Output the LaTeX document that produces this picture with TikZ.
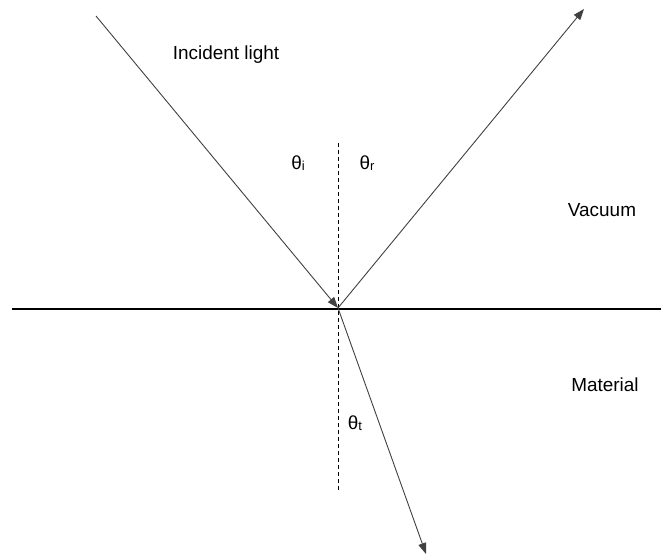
\documentclass[tikz,border=0pt]{standalone}
\usepackage{fontspec}
\setmainfont{Liberation Sans}
\usetikzlibrary{arrows.meta}
\newcommand{\thsub}[1]{θ\raisebox{-1bp}{\fontsize{13}{13}\selectfont #1}}
\begin{document}
\begin{tikzpicture}[x=1bp,y=-1bp,
  ray/.style={draw=black!75, line width=0.9bp},
  tip/.style={-{Triangle[length=11bp,width=8bp]}},
  lbl/.style={font=\fontsize{19}{19}\selectfont, inner sep=0pt, anchor=center},
  normal/.style={draw=black, line width=1bp, dash pattern=on 4bp off 3bp}]
\useasboundingbox (0,0) rectangle (661,555);
\coordinate (src) at (96,16);
\coordinate (o) at (338,308);
\coordinate (refl) at (584,9);
\coordinate (refr) at (426,554);
\coordinate (hl) at (12,308.5);
\coordinate (hr) at (661,308.5);
\coordinate (nt) at (338,143);
\coordinate (nb) at (338,492);
\draw[line width=2bp] (hl) -- (hr);
\draw[normal] (nt) -- (nb);
\draw[ray,tip] (src) -- (o);
\draw[ray,tip] (o) -- (refl);
\draw[ray,tip] (o) -- (refr);
\node[lbl] (inc) at (226,55) {Incident light};
\node[lbl] (vac) at (602,210) {Vacuum};
\node[lbl] (mat) at (605,385) {Material};
\node[lbl] (ti) at (298,163) {\thsub{i}};
\node[lbl] (tr) at (367,163) {\thsub{r}};
\node[lbl] (tt) at (355,423) {\thsub{t}};
\end{tikzpicture}
\end{document}
